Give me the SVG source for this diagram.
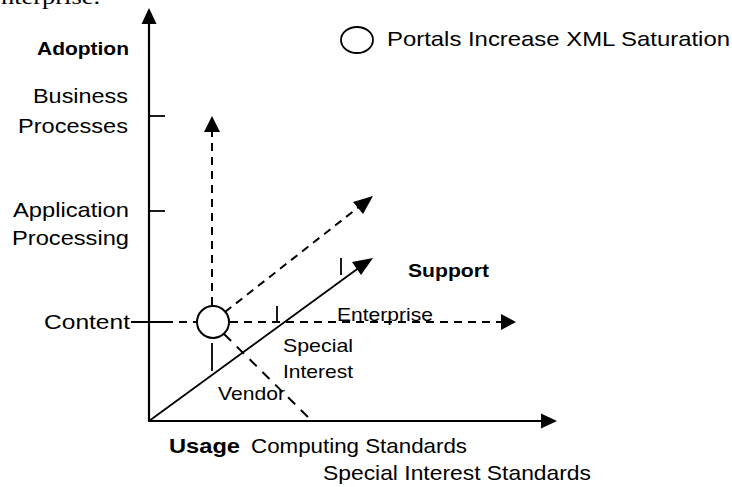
<svg xmlns="http://www.w3.org/2000/svg" width="732" height="487" viewBox="0 0 732 487">
<defs>
<style>
text{font-family:"Liberation Sans",Arial,sans-serif;font-size:21px;fill:#000}
.b{font-weight:bold;font-size:18.5px}
.r{font-size:19px}
.s{font-family:"Liberation Serif","Times New Roman",serif;font-size:20px}
.ax{stroke:#000;stroke-width:2.2;fill:none}
.ln{stroke:#000;stroke-width:1.8;fill:none}
.da{stroke:#000;stroke-width:2;fill:none;stroke-dasharray:8 6}
.ah{fill:#000;stroke:none}
</style>
</defs>
<text class="s" x="1" y="4" textLength="99" lengthAdjust="spacingAndGlyphs">nterprise.</text>
<g id="connectors">
<line class="ax" x1="149" y1="22" x2="149" y2="422"/>
<polygon class="ah" points="149,8 141.5,24 156.5,24"/>
<line class="ax" x1="148" y1="421" x2="542" y2="421"/>
<polygon class="ah" points="557,421 541,413.5 541,428.5"/>
<line class="ln" x1="149" y1="116" x2="165" y2="116"/>
<line class="ln" x1="149" y1="211" x2="165" y2="211"/>
<line class="ln" x1="131" y1="322" x2="165" y2="322"/>
<line class="da" x1="165" y1="322" x2="196" y2="322"/>
<line class="da" x1="230" y1="322" x2="502" y2="322"/>
<polygon class="ah" points="516,322 501,314 501,330"/>
<line class="da" x1="212" y1="305" x2="212" y2="132"/>
<polygon class="ah" points="212,116 204,132 220,132"/>
<line class="da" x1="225" y1="312" x2="360" y2="206"/>
<polygon class="ah" points="373,196 353,202 363,214"/>
<line class="ln" x1="149" y1="421" x2="360" y2="267"/>
<polygon class="ah" points="373,258 352,262 361,275"/>
<line class="da" x1="224" y1="334" x2="310" y2="419" style="stroke-dasharray:10 8"/>
<line class="ln" x1="212" y1="343" x2="212" y2="371"/>
<line class="ln" x1="277" y1="306" x2="277" y2="322"/>
<line class="ln" x1="341" y1="258" x2="341" y2="275"/>
</g>
<g id="portal">
<circle cx="213" cy="322" r="16" fill="#fff" stroke="#000" stroke-width="2"/>
</g>
<g id="legend">
<ellipse cx="357" cy="40" rx="16" ry="13" fill="none" stroke="#000" stroke-width="1.8"/>
<text x="387" y="46" textLength="343" lengthAdjust="spacingAndGlyphs">Portals Increase XML Saturation</text>
</g>
<g id="y-labels">
<text class="b" x="37" y="55" textLength="92" lengthAdjust="spacingAndGlyphs">Adoption</text>
<text x="33" y="103" textLength="95" lengthAdjust="spacingAndGlyphs">Business</text>
<text x="18" y="133" textLength="110" lengthAdjust="spacingAndGlyphs">Processes</text>
<text x="13" y="217" textLength="116" lengthAdjust="spacingAndGlyphs">Application</text>
<text x="12" y="245" textLength="117" lengthAdjust="spacingAndGlyphs">Processing</text>
<text x="44" y="329" textLength="86" lengthAdjust="spacingAndGlyphs">Content</text>
</g>
<g id="regions">
<text class="b" x="408" y="277" textLength="81" lengthAdjust="spacingAndGlyphs">Support</text>
<text class="r" x="337" y="321" textLength="96" lengthAdjust="spacingAndGlyphs">Enterprise</text>
<text class="r" x="283" y="352" textLength="70" lengthAdjust="spacingAndGlyphs">Special</text>
<text class="r" x="283" y="378" textLength="70" lengthAdjust="spacingAndGlyphs">Interest</text>
<text class="r" x="218" y="400" textLength="67" lengthAdjust="spacingAndGlyphs">Vendor</text>
</g>
<g id="x-labels">
<text x="169" y="453"><tspan font-weight="bold" textLength="71" lengthAdjust="spacingAndGlyphs">Usage</tspan><tspan x="251" textLength="216" lengthAdjust="spacingAndGlyphs">Computing Standards</tspan></text>
<text x="323" y="480" textLength="268" lengthAdjust="spacingAndGlyphs">Special Interest Standards</text>
</g>
</svg>
